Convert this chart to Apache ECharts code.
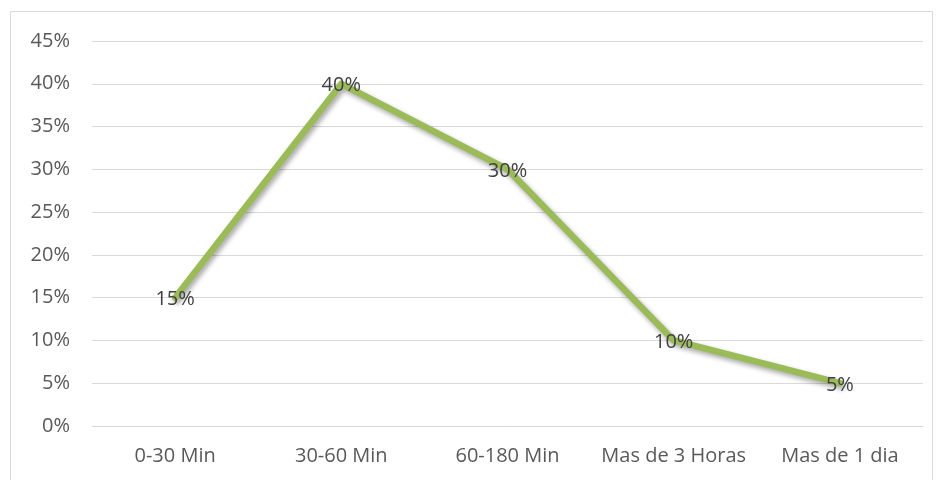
<!DOCTYPE html>
<html>
<head>
<meta charset="utf-8">
<script src="https://cdn.jsdelivr.net/npm/echarts@6/dist/echarts.min.js"></script>
<style>
  html, body { margin: 0; padding: 0; background: #ffffff; }
  #chart { width: 940px; height: 480px; }
</style>
</head>
<body>
<div id="chart"></div>
<script>
// Time ranges and share of responses (percent)
const categories = ['0-30 Min', '30-60 Min', '60-180 Min', 'Mas de 3 Horas', 'Mas de 1 dia'];
const shares = [15, 40, 30, 10, 5];
const yTicks = { min: 0, max: 45, step: 5 };

const chart = echarts.init(document.getElementById('chart'));
const font = '"Open Sans", "DejaVu Sans", sans-serif';

chart.setOption({
  backgroundColor: '#ffffff',
  animation: false,
  graphic: [{
    type: 'rect',
    shape: { x: 10.5, y: 11.5, width: 922, height: 480 },
    style: { fill: 'none', stroke: '#d9d9d9', lineWidth: 1 },
    silent: true
  }],
  grid: { left: 92, right: 17, top: 41, bottom: 54 },
  xAxis: {
    type: 'category',
    data: categories,
    boundaryGap: true,
    axisLine: { show: true, lineStyle: { color: '#d9d9d9', width: 1 } },
    axisTick: { show: false },
    axisLabel: { color: '#595959', fontSize: 20, fontFamily: font, margin: 20, interval: 0 }
  },
  yAxis: {
    type: 'value',
    min: yTicks.min,
    max: yTicks.max,
    interval: yTicks.step,
    axisLine: { show: false },
    axisTick: { show: false },
    splitLine: { lineStyle: { color: '#d9d9d9', width: 1 } },
    axisLabel: { color: '#595959', fontSize: 20, fontFamily: font, margin: 22,
                 formatter: v => v + '%' }
  },
  series: [{
    type: 'line',
    data: shares,
    symbol: 'circle',
    symbolSize: 1,
    showSymbol: true,
    itemStyle: { color: 'rgba(0,0,0,0)', borderWidth: 0 },
    lineStyle: {
      color: '#9bbb59', width: 6.5, cap: 'round', join: 'round',
      shadowColor: 'rgba(0,0,0,0.35)', shadowBlur: 5, shadowOffsetX: 2, shadowOffsetY: 3
    },
    label: {
      show: true,
      position: 'inside',
      offset: [0, 2],
      color: '#404040',
      fontSize: 20,
      fontFamily: font,
      formatter: p => p.value + '%'
    }
  }]
});
</script>
</body>
</html>
